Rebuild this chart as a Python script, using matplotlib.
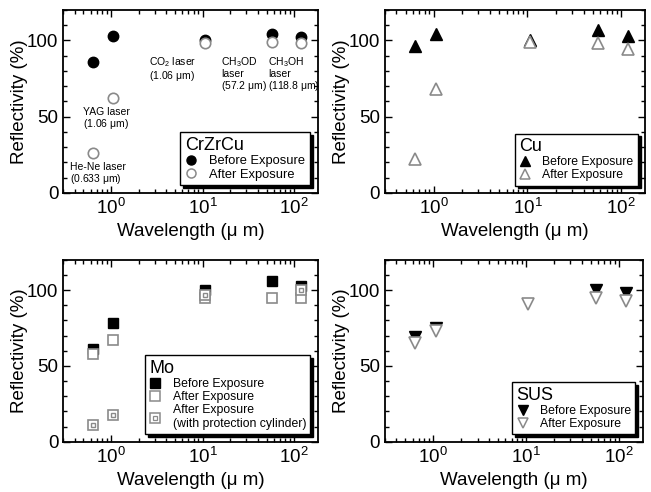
import numpy as np
import matplotlib.pyplot as plt
from matplotlib.ticker import MultipleLocator, LogLocator, NullFormatter
from matplotlib.lines import Line2D
from matplotlib.legend_handler import HandlerTuple

plt.rcParams['font.family'] = ['Liberation Sans', 'DejaVu Sans']
plt.rcParams['mathtext.fontset'] = 'custom'
plt.rcParams['mathtext.rm'] = 'Liberation Sans'
plt.rcParams['mathtext.it'] = 'Liberation Sans'

# ── Data ──────────────────────────────────────────────────────
wl = [0.633, 1.06, 10.6, 57.2, 118.8]

crzrcu_before = [86, 103, 100, 104, 102]
crzrcu_after  = [26, 62, 98, 99, 98]

cu_before = [96, 104, 100, 107, 103]
cu_after  = [22, 68, 99, 98, 94]

mo_wl_prot    = [0.633, 1.06, 10.6, 118.8]
mo_before     = [61, 78, 100, 106, 103]
mo_after      = [58, 67, 95, 95, 95]
mo_after_prot = [11, 18, 97, 100]

sus_wl_before = [0.633, 1.06, 57.2, 118.8]
sus_before    = [69, 75, 100, 98]
sus_after     = [65, 73, 91, 95, 93]

laser_labels = ['He-Ne laser\n(0.633 $\\mu$m)', 'YAG laser\n(1.06 $\\mu$m)',
                'CO$_2$ laser\n(1.06 $\\mu$m)', 'CH$_3$OD\nlaser\n(57.2 $\\mu$m)',
                'CH$_3$OH\nlaser\n(118.8 $\\mu$m)']
laser_pos = [(0.36, 20), (0.495, 56), (2.57, 90), (15.9, 90), (52, 90)]

GRAY = '#8a8a8a'
MS = 7.5

fig = plt.figure(figsize=(6.51, 4.92), dpi=100)
axes = [fig.add_axes([0.097, 0.608, 0.391, 0.372]),
        fig.add_axes([0.591, 0.608, 0.400, 0.372]),
        fig.add_axes([0.097, 0.102, 0.391, 0.370]),
        fig.add_axes([0.591, 0.102, 0.396, 0.370])]


def style(ax):
    ax.set_xscale('log')
    ax.set_xlim(0.3, 180)
    ax.set_ylim(0, 120)
    ax.yaxis.set_major_locator(MultipleLocator(50))
    ax.yaxis.set_minor_locator(MultipleLocator(10))
    ax.xaxis.set_minor_locator(LogLocator(base=10, subs=np.arange(2, 10)))
    ax.xaxis.set_minor_formatter(NullFormatter())
    ax.tick_params(which='both', direction='in', top=True, right=True,
                   labelsize=13.5, width=1.0)
    ax.tick_params(which='major', length=5)
    ax.tick_params(which='minor', length=3)
    for s in ax.spines.values():
        s.set_linewidth(1.3)
    ax.set_xlabel('Wavelength (μ m)', fontsize=13.5)
    ax.set_ylabel('Reflectivity (%)', fontsize=13.5, labelpad=-1)


def legend(ax, handles, labels, title, fs=8.8, **kw):
    lg = ax.legend(handles, labels, title=title, loc='lower right',
                   fontsize=fs, title_fontsize=13, frameon=True, fancybox=False,
                   edgecolor='black', borderaxespad=0.6, handletextpad=0.9,
                   labelspacing=0.1, borderpad=0.35, handlelength=1.0,
                   shadow={'color': 'black', 'alpha': 1.0, 'ox': 2, 'oy': -2},
                   **kw)
    lg.get_frame().set_linewidth(1.0)
    lg._legend_box.align = 'left'
    return lg


# ── CrZrCu ────────────────────────────────────────────────────
ax = axes[0]
style(ax)
ax.plot(wl, crzrcu_before, 'o', ms=MS, color='black', zorder=3)
ax.plot(wl, crzrcu_after, 'o', ms=MS, mfc='white', mec=GRAY, mew=1.2, zorder=4)
for lab, (x, y) in zip(laser_labels, laser_pos):
    ax.text(x, y, lab, fontsize=7.5, va='top', ha='left', linespacing=1.0)
h = [Line2D([], [], ls='', marker='o', ms=MS - 1, color='black'),
     Line2D([], [], ls='', marker='o', ms=MS - 1, mfc='white', mec=GRAY, mew=1.1)]
legend(ax, h, ['Before Exposure', 'After Exposure'], 'CrZrCu', fs=9.3)

# ── Cu ────────────────────────────────────────────────────────
ax = axes[1]
style(ax)
ax.plot(wl, cu_before, '^', ms=MS + 1, color='black', zorder=3)
ax.plot(wl, cu_after, '^', ms=MS + 1, mfc='white', mec=GRAY, mew=1.2, zorder=4)
h = [Line2D([], [], ls='', marker='^', ms=MS, color='black'),
     Line2D([], [], ls='', marker='^', ms=MS, mfc='white', mec=GRAY, mew=1.1)]
legend(ax, h, ['Before Exposure', 'After Exposure'], 'Cu')

# ── Mo ────────────────────────────────────────────────────────
ax = axes[2]
style(ax)
ax.plot(wl, mo_before, 's', ms=MS, color='black', zorder=3)
ax.plot(wl, mo_after, 's', ms=MS, mfc='white', mec=GRAY, mew=1.2, zorder=4)
ax.plot(mo_wl_prot, mo_after_prot, 's', ms=MS, mfc='white', mec=GRAY, mew=1.2, zorder=5)
ax.plot(mo_wl_prot, mo_after_prot, 's', ms=3.5, mfc='white', mec=GRAY, mew=1.0, zorder=6)
h = [Line2D([], [], ls='', marker='s', ms=MS - 1, color='black'),
     Line2D([], [], ls='', marker='s', ms=MS - 1, mfc='white', mec=GRAY, mew=1.1),
     (Line2D([], [], ls='', marker='s', ms=MS - 1, mfc='white', mec=GRAY, mew=1.1),
      Line2D([], [], ls='', marker='s', ms=3, mfc='white', mec=GRAY, mew=0.9))]
legend(ax, h, ['Before Exposure', 'After Exposure',
               'After Exposure\n(with protection cylinder)'], 'Mo', fs=8.8,
       handler_map={tuple: HandlerTuple(ndivide=1, pad=0)})

# ── SUS ───────────────────────────────────────────────────────
ax = axes[3]
style(ax)
ax.plot(sus_wl_before, sus_before, 'v', ms=MS + 1, color='black', zorder=3)
ax.plot(wl, sus_after, 'v', ms=MS + 1, mfc='white', mec=GRAY, mew=1.2, zorder=4)
h = [Line2D([], [], ls='', marker='v', ms=MS, color='black'),
     Line2D([], [], ls='', marker='v', ms=MS, mfc='white', mec=GRAY, mew=1.1)]
legend(ax, h, ['Before Exposure', 'After Exposure'], 'SUS')

fig.savefig('out.png', dpi=100)
